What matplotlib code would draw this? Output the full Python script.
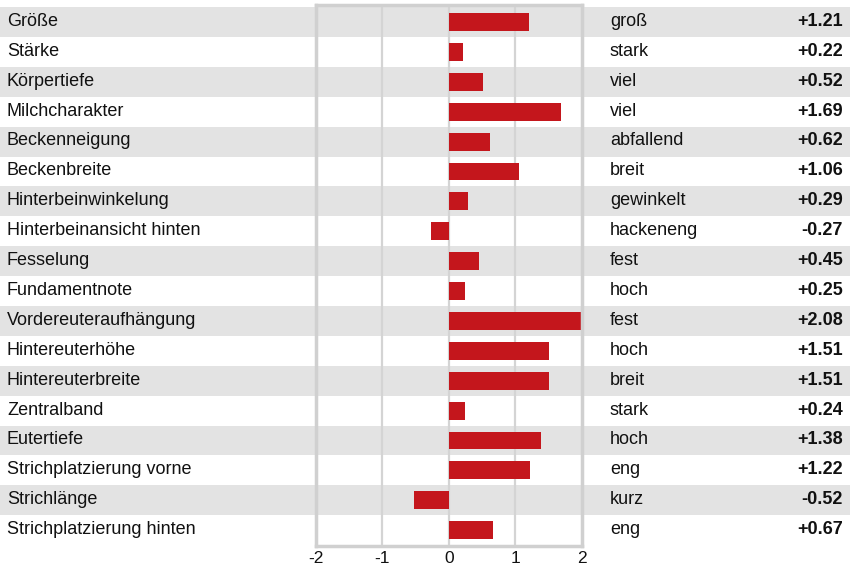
import numpy as np
import matplotlib.pyplot as plt

# data
traits = ['Größe', 'Stärke', 'Körpertiefe', 'Milchcharakter', 'Beckenneigung',
          'Beckenbreite', 'Hinterbeinwinkelung', 'Hinterbeinansicht hinten',
          'Fesselung', 'Fundamentnote', 'Vordereuteraufhängung', 'Hintereuterhöhe',
          'Hintereuterbreite', 'Zentralband', 'Eutertiefe',
          'Strichplatzierung vorne', 'Strichlänge', 'Strichplatzierung hinten']
poles = ['groß', 'stark', 'viel', 'viel', 'abfallend', 'breit', 'gewinkelt',
         'hackeneng', 'fest', 'hoch', 'fest', 'hoch', 'breit', 'stark', 'hoch',
         'eng', 'kurz', 'eng']
values = [1.21, 0.22, 0.52, 1.69, 0.62, 1.06, 0.29, -0.27, 0.45, 0.25,
          2.08, 1.51, 1.51, 0.24, 1.38, 1.22, -0.52, 0.67]
ticks = [-2, -1, 0, 1, 2]

plt.rcParams['font.family'] = ['Liberation Sans', 'DejaVu Sans']
fs = 13
n = len(traits)
y = np.arange(n)

fig = plt.figure(figsize=(8.5, 5.69), dpi=100)
pos = [0.0, 1 - 546 / 569, 1.0, 541 / 569]
ylim = (n - 0.5 + 0.03, -0.57)

# background bands and texts
bg = fig.add_axes(pos, zorder=0)
bg.set_xlim(0, 1)
bg.set_ylim(*ylim)
bg.axis('off')
for i in y:
    if i % 2 == 0:
        bg.axhspan(i - 0.5, i + 0.5, color='#e3e3e3', lw=0)
    bg.text(7 / 850, i - 0.02, traits[i], ha='left', va='center', fontsize=fs, color='#111111')
    bg.text(610 / 850, i - 0.02, poles[i], ha='left', va='center', fontsize=fs, color='#111111')
    bg.text(843 / 850, i - 0.02, '%+.2f' % values[i], ha='right', va='center',
            fontsize=fs, fontweight='bold', color='#111111')

# bar panel
ax = fig.add_axes([315.7 / 850, pos[1], 266.3 / 850, pos[3]], zorder=1)
ax.patch.set_alpha(0)
ax.set_xlim(-2, 2)
ax.set_ylim(*ylim)
ax.barh(y, values, height=0.6, color='#c4161c', zorder=3)
for t in [-1, 0, 1]:
    ax.axvline(t, color='#d4d4d4', lw=1.6, zorder=2)
for s in ax.spines.values():
    s.set_color('#d0d0d0')
    s.set_linewidth(2.5)
    s.set_zorder(4)
ax.set_yticks([])
ax.set_xticks(ticks)
ax.set_xticklabels([str(t) for t in ticks], fontsize=12.5, color='#111111')
ax.tick_params(axis='x', length=0, pad=3.5)

fig.savefig('out.png', dpi=100)
